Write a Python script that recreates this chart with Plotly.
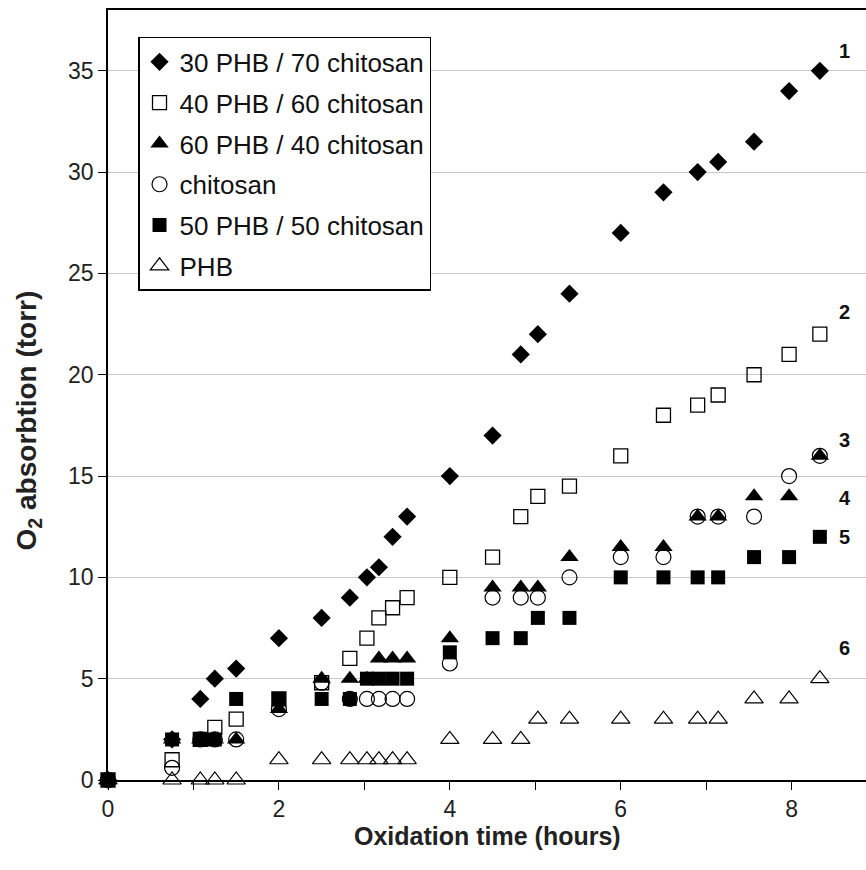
import plotly.graph_objects as go

# Oxidation time (hours)
time_h = [0, 0.75, 1.08, 1.25, 1.5, 2.0, 2.5, 2.83, 3.03, 3.17, 3.33, 3.5,
          4.0, 4.5, 4.83, 5.03, 5.4, 6.0, 6.5, 6.9, 7.14, 7.56, 7.97, 8.33]

# O2 absorption (torr) per sample
phb30_chit70 = [0, 2, 4, 5, 5.5, 7, 8, 9, 10, 10.5, 12, 13,
                15, 17, 21, 22, 24, 27, 29, 30, 30.5, 31.5, 34, 35]
phb40_chit60 = [0, 1, 2, 2.6, 3, 4, 4.8, 6, 7, 8, 8.5, 9,
                10, 11, 13, 14, 14.5, 16, 18, 18.5, 19, 20, 21, 22]
phb60_chit40 = [0, 2, 2, 2, 2, 3.5, 5, 5, 5, 6, 6, 6,
                7, 9.5, 9.5, 9.5, 11, 11.5, 11.5, 13, 13, 14, 14, 16]
chitosan = [0, 0.6, 2, 2, 2, 3.5, 4.8, 4, 4, 4, 4, 4,
            5.75, 9, 9, 9, 10, 11, 11, 13, 13, 13, 15, 16]
phb50_chit50 = [0, 2, 2, 2, 4, 4, 4, 4, 5, 5, 5, 5,
                6.3, 7, 7, 8, 8, 10, 10, 10, 10, 11, 11, 12]
phb = [0, 0, 0, 0, 0, 1, 1, 1, 1, 1, 1, 1,
       2, 2, 2, 3, 3, 3, 3, 3, 3, 4, 4, 5]

series_names = ["30 PHB / 70 chitosan", "40 PHB / 60 chitosan", "60 PHB / 40 chitosan",
                "chitosan", "50 PHB / 50 chitosan", "PHB"]
series_values = [phb30_chit70, phb40_chit60, phb60_chit40, chitosan, phb50_chit50, phb]

curve_labels = ["1", "2", "3", "4", "5", "6"]
curve_label_x = [8.62, 8.62, 8.62, 8.62, 8.62, 8.62]
curve_label_y = [36.0, 23.1, 16.8, 13.9, 12.0, 6.5]

styles = [
    dict(symbol="diamond", size=14, color="black", line=dict(width=0)),
    dict(symbol="square-open", size=14, color="black", line=dict(width=1.3)),
    dict(symbol="triangle-up", size=16, color="black", line=dict(width=0)),
    dict(symbol="circle-open", size=15, color="black", line=dict(width=1.2)),
    dict(symbol="square", size=14, color="black", line=dict(width=0)),
    dict(symbol="triangle-up-open", size=16, color="black", line=dict(width=1.2)),
]

FONT = "Arial, 'Liberation Sans', sans-serif"

fig = go.Figure()
for i, (name, vals) in enumerate(zip(series_names, series_values)):
    fig.add_trace(go.Scatter(
        x=time_h, y=vals, mode="markers", name=name,
        legendgroup=f"g{i}", marker=styles[i], cliponaxis=False,
    ))

for lab, lx, ly in zip(curve_labels, curve_label_x, curve_label_y):
    fig.add_annotation(x=lx, y=ly, text=f"<b>{lab}</b>", showarrow=False,
                       font=dict(family=FONT, size=20, color="#111"))

# axis titles placed as paper annotations
fig.add_annotation(xref="paper", yref="paper", x=0.5, y=-0.0727,
                   xanchor="center", yanchor="middle",
                   text="<b>Oxidation time (hours)</b>", showarrow=False,
                   font=dict(family=FONT, size=25, color="#222"))
fig.add_annotation(xref="paper", yref="paper", x=-0.105, y=0.4675,
                   xanchor="center", yanchor="middle",
                   text="<b>O<sub>2</sub> absorbtion (torr)</b>", showarrow=False,
                   textangle=-90, font=dict(family=FONT, size=28, color="#222"))

fig.update_layout(
    width=866, height=870,
    margin=dict(l=108, r=0, t=10, b=90),
    paper_bgcolor="white", plot_bgcolor="white",
    font=dict(family=FONT, size=22, color="#222"),
    showlegend=True,
    legend=dict(
        x=0.0396, y=0.965, xanchor="left", yanchor="top",
        bgcolor="white", bordercolor="black", borderwidth=1.5,
        font=dict(family=FONT, size=26, color="#111"),
        tracegroupgap=4, itemwidth=30,
    ),
    xaxis=dict(
        range=[0, 8.87], dtick=2, tick0=0,
        showline=True, linecolor="black", linewidth=1.5, mirror=True,
        ticks="outside", ticklen=8, tickcolor="black", tickwidth=1.3,
        minor=dict(dtick=1, ticks="outside", ticklen=8, tickcolor="black", tickwidth=1.3),
        showgrid=False, zeroline=False,
        tickfont=dict(size=23),
    ),
    yaxis=dict(
        range=[0, 38], dtick=5, tick0=0,
        showline=True, linecolor="black", linewidth=1.5,
        ticks="outside", ticklen=8, tickcolor="black", tickwidth=1.3,
        showgrid=True, gridcolor="#c8c8c8", gridwidth=1.3,
        zeroline=False,
        tickfont=dict(size=23),
    ),
)

fig.write_html("out.html")
